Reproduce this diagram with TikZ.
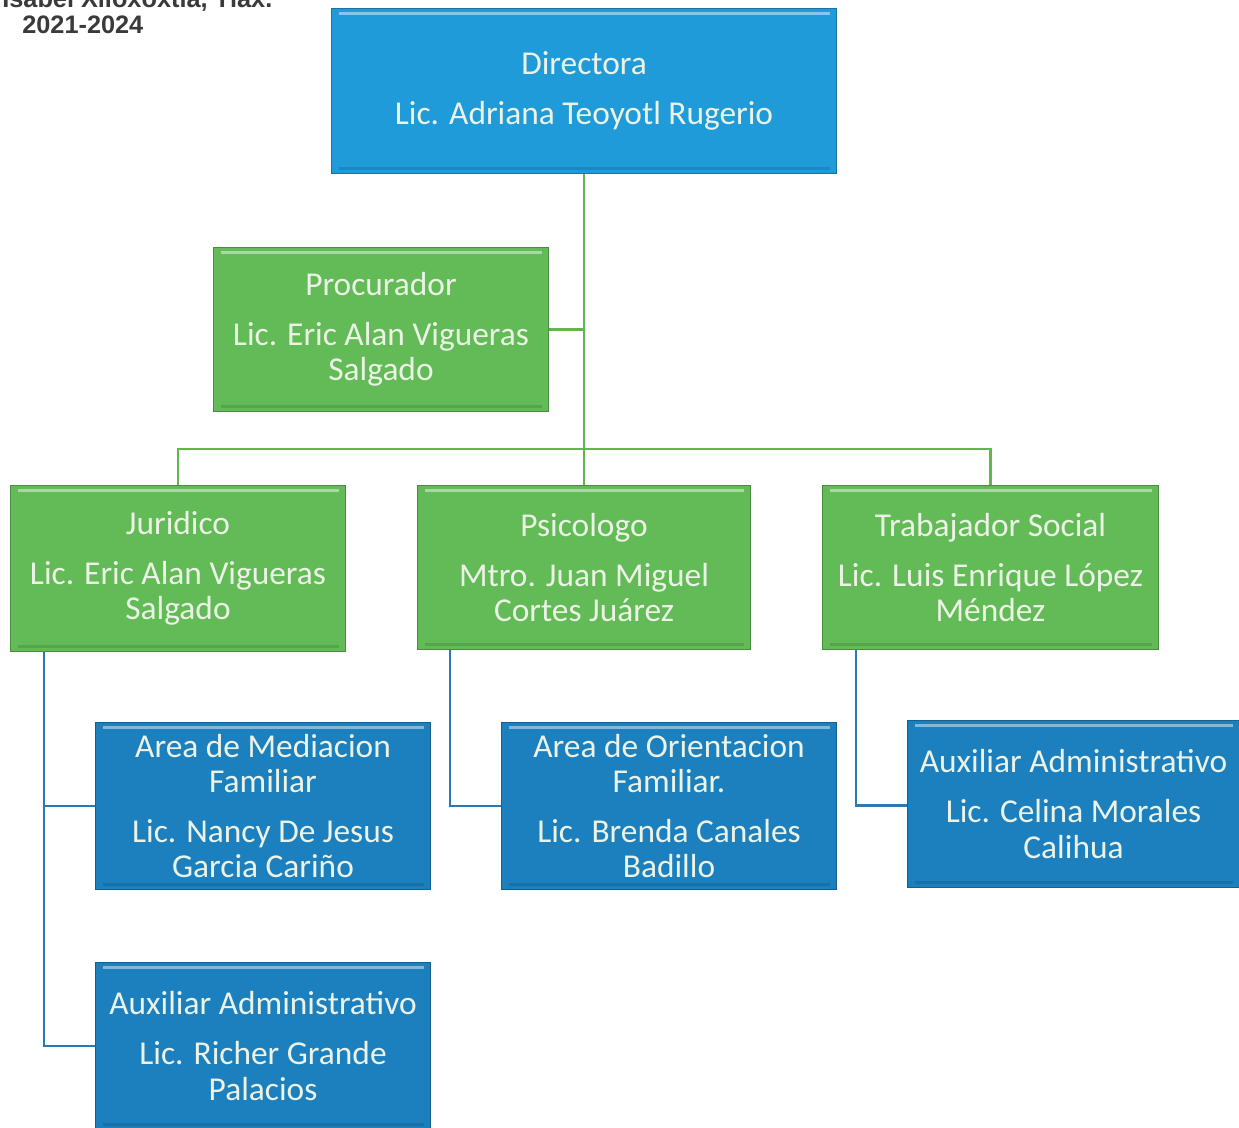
\documentclass[tikz,border=0pt]{standalone}
\usepackage{fontspec}
\setmainfont{Carlito}
\newfontfamily\headfont{Liberation Sans}
\usetikzlibrary{calc}
\definecolor{dirblue}{HTML}{1F9BD9}
\definecolor{lowblue}{HTML}{1C80BE}
\definecolor{boxgreen}{HTML}{62BB56}
\definecolor{boxtext}{HTML}{ECF3E6}
\definecolor{greenline}{HTML}{62B64A}
\definecolor{blueline}{HTML}{2A78B8}
\definecolor{headgray}{HTML}{3A3A3A}
\tikzset{
  orgbox/.style n args={3}{rectangle, anchor=north west, inner sep=0pt,
    minimum width=#1*0.02cm, minimum height=#2*0.02cm,
    fill=#3, draw=#3!75!black, line width=0.6pt,
    align=center, text=boxtext,
    font=\fontsize{19}{20}\selectfont,
    path picture={
      \draw[white, opacity=0.45, line width=1.6pt]
        ([xshift=4pt,yshift=-3pt]path picture bounding box.north west) --
        ([xshift=-4pt,yshift=-3pt]path picture bounding box.north east);
      \draw[black, opacity=0.12, line width=1.6pt]
        ([xshift=4pt,yshift=3pt]path picture bounding box.south west) --
        ([xshift=-4pt,yshift=3pt]path picture bounding box.south east);
    }},
  gline/.style={draw=greenline, line width=1.4pt},
  bline/.style={draw=blueline, line width=1.2pt},
  headtext/.style={font=\headfont\bfseries\fontsize{14.4}{16}\selectfont, text=headgray, inner sep=0pt, anchor=base west}
}
\newcommand\pgap{\\[8.5pt]}
\begin{document}
\begin{tikzpicture}[x=0.02cm, y=-0.02cm]
\useasboundingbox (0,0) rectangle (1239,1127);
\fill[white] (0,0) rectangle (1239,1127);

% header
\node[headtext] (hd1) at (2,7) {Isabel Xiloxoxtla, Tlax.};
\node[headtext] (hd2) at (22,33) {2021-2024};

% boxes
\node[orgbox={505}{165}{dirblue}] (dir) at (331,8)
  {Directora\pgap Lic. Adriana Teoyotl Rugerio};
\node[orgbox={335}{164}{boxgreen}] (proc) at (213,247)
  {Procurador\pgap Lic. Eric Alan Vigueras\\ Salgado};
\node[orgbox={335}{166}{boxgreen}] (jur) at (10,485)
  {Juridico\pgap Lic. Eric Alan Vigueras\\ Salgado};
\node[orgbox={333}{164}{boxgreen}] (psi) at (417,485)
  {Psicologo\pgap Mtro. Juan Miguel\\ Cortes Juárez};
\node[orgbox={336}{164}{boxgreen}] (tra) at (822,485)
  {Trabajador Social\pgap Lic. Luis Enrique López\\ Méndez};
\node[orgbox={335}{167}{lowblue}] (med) at (95,722)
  {Area de Mediacion\\ Familiar\pgap Lic. Nancy De Jesus\\ Garcia Cariño};
\node[orgbox={335}{167}{lowblue}] (ori) at (501,722)
  {Area de Orientacion\\ Familiar.\pgap Lic. Brenda Canales\\ Badillo};
\node[orgbox={332}{167}{lowblue}] (auxr) at (907,720)
  {Auxiliar Administrativo\pgap Lic. Celina Morales\\ Calihua};
\node[orgbox={335}{167}{lowblue}] (auxl) at (95,962)
  {Auxiliar Administrativo\pgap Lic. Richer Grande\\ Palacios};

% green connectors
\coordinate (bus) at (583.5,449);
\draw[gline] (dir.south) -- (psi.north);
\draw[gline] (proc.east) -- (proc.east -| dir.south);
\draw[gline] (jur.north) |- (bus) -| (tra.north);

% blue connectors
\coordinate (jtop) at ($(jur.south west)+(34,0)$);
\coordinate (ptop) at ($(psi.south west)+(33,0)$);
\coordinate (ttop) at ($(tra.south west)+(34,0)$);
\draw[bline] (jtop) |- (auxl.west);
\draw[bline] (med.west) -| (jtop);
\draw[bline] (ptop) |- (ori.west);
\draw[bline] (ttop) |- ($(auxr.west)+(0,1.5)$);
\end{tikzpicture}
\end{document}
